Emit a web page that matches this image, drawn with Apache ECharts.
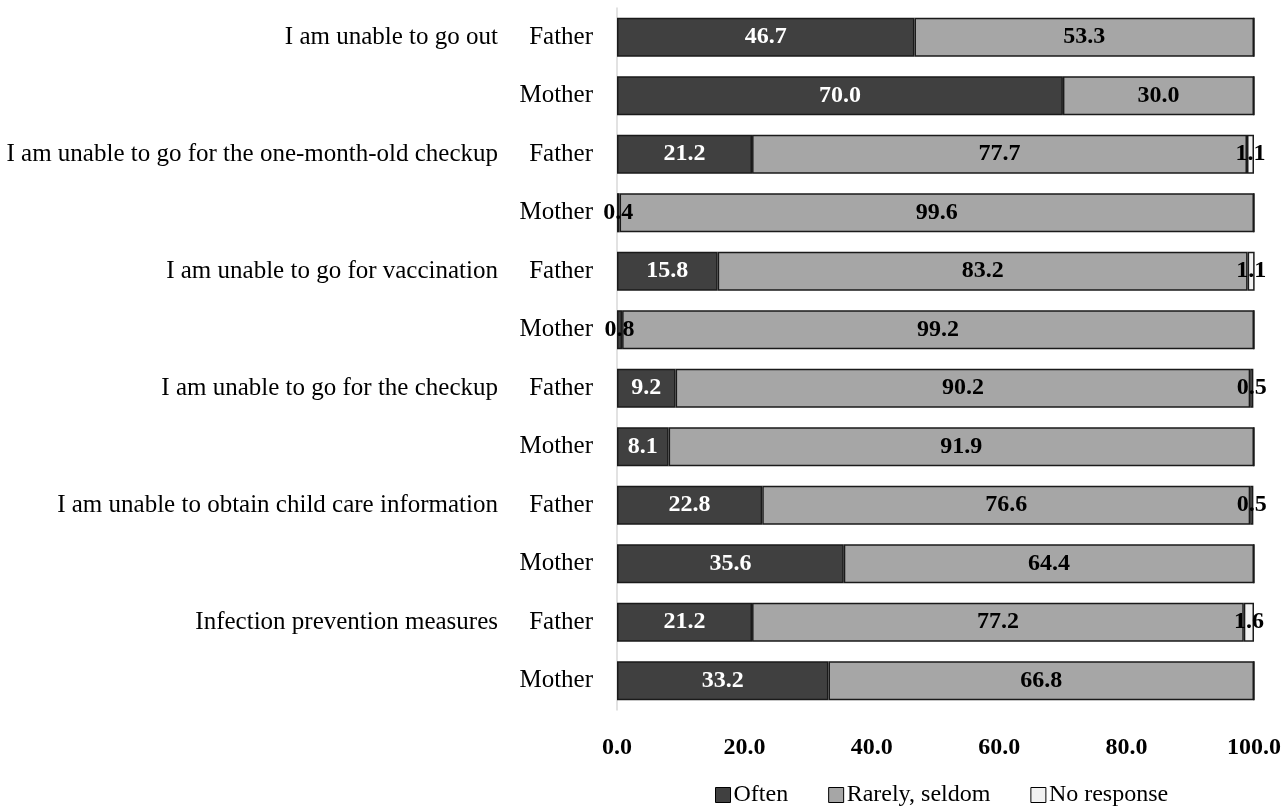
<!DOCTYPE html>
<html>
<head>
<meta charset="utf-8">
<style>
  html, body { margin: 0; padding: 0; background: #ffffff; }
  #chart { width: 1284px; height: 811px; }
</style>
<script src="https://cdn.jsdelivr.net/npm/echarts@6/dist/echarts.min.js"></script>
</head>
<body>
<div id="chart"></div>
<script>
// Rows, top to bottom: each item asked of fathers and mothers
const respondents = ['Father', 'Mother', 'Father', 'Mother', 'Father', 'Mother',
                     'Father', 'Mother', 'Father', 'Mother', 'Father', 'Mother'];
const items = ['I am unable to go out', '',
               'I am unable to go for the one-month-old checkup', '',
               'I am unable to go for vaccination', '',
               'I am unable to go for the checkup', '',
               'I am unable to obtain child care information', '',
               'Infection prevention measures', ''];

// Percentages per answer
const often      = [46.7, 70.0, 21.2, 0.4, 15.8, 0.8, 9.2, 8.1, 22.8, 35.6, 21.2, 33.2];
const rarely     = [53.3, 30.0, 77.7, 99.6, 83.2, 99.2, 90.2, 91.9, 76.6, 64.4, 77.2, 66.8];
const noResponse = [0, 0, 1.1, 0, 1.1, 0, 0.5, 0, 0.5, 0, 1.6, 0];

const xTicks = [0, 20, 40, 60, 80, 100];

const FONT = "'Liberation Serif', 'Times New Roman', serif";

const chart = echarts.init(document.getElementById('chart'));

function fmt(v) { return v.toFixed(1); }

function makeSeries(name, values, color, labelColor) {
  return {
    name: name,
    type: 'bar',
    stack: 'total',
    barWidth: '67%',
    itemStyle: { color: color, borderColor: '#1a1a1a', borderWidth: 1.5 },
    label: {
      show: true,
      position: 'inside',
      fontFamily: FONT,
      fontWeight: 'bold',
      fontSize: 24,
      formatter: p => (p.value > 0 ? fmt(p.value) : '')
    },
    emphasis: { disabled: true },
    data: values.map(v => ({
      value: v,
      label: { color: v < 2 ? '#000000' : labelColor }
    }))
  };
}

chart.setOption({
  animation: false,
  grid: { left: 617, right: 30, top: 8, bottom: 101, containLabel: false },
  xAxis: {
    type: 'value',
    min: xTicks[0],
    max: xTicks[xTicks.length - 1],
    interval: 20,
    axisLine: { show: false },
    axisTick: { show: false },
    splitLine: { show: false },
    axisLabel: {
      margin: 26,
      fontFamily: FONT,
      fontWeight: 'bold',
      fontSize: 24,
      color: '#000000',
      formatter: v => fmt(v)
    }
  },
  yAxis: [
    {
      type: 'category',
      inverse: true,
      data: respondents,
      axisLine: { show: true, lineStyle: { color: '#d9d9d9', width: 1.5 } },
      axisTick: { show: false },
      axisLabel: { margin: 24, fontFamily: FONT, fontSize: 25, color: '#000000' }
    },
    {
      type: 'category',
      inverse: true,
      position: 'left',
      offset: 95,
      data: items,
      axisLine: { show: false },
      axisTick: { show: false },
      axisLabel: { margin: 24, fontFamily: FONT, fontSize: 25, color: '#000000' }
    }
  ],
  legend: {
    top: 778,
    left: 710,
    itemWidth: 15,
    itemHeight: 15,
    itemGap: 40,
    icon: 'rect',
    textStyle: { fontFamily: FONT, fontSize: 24, color: '#000000', padding: [0, 0, 0, -2] },
    data: [
      { name: 'Often', itemStyle: { borderColor: '#000', borderWidth: 1 } },
      { name: 'Rarely, seldom', itemStyle: { borderColor: '#000', borderWidth: 1 } },
      { name: 'No response', itemStyle: { borderColor: '#000', borderWidth: 1 } }
    ]
  },
  series: [
    makeSeries('Often', often, '#404040', '#ffffff'),
    makeSeries('Rarely, seldom', rarely, '#a6a6a6', '#000000'),
    makeSeries('No response', noResponse, '#f2f2f2', '#000000')
  ]
});
</script>
</body>
</html>
